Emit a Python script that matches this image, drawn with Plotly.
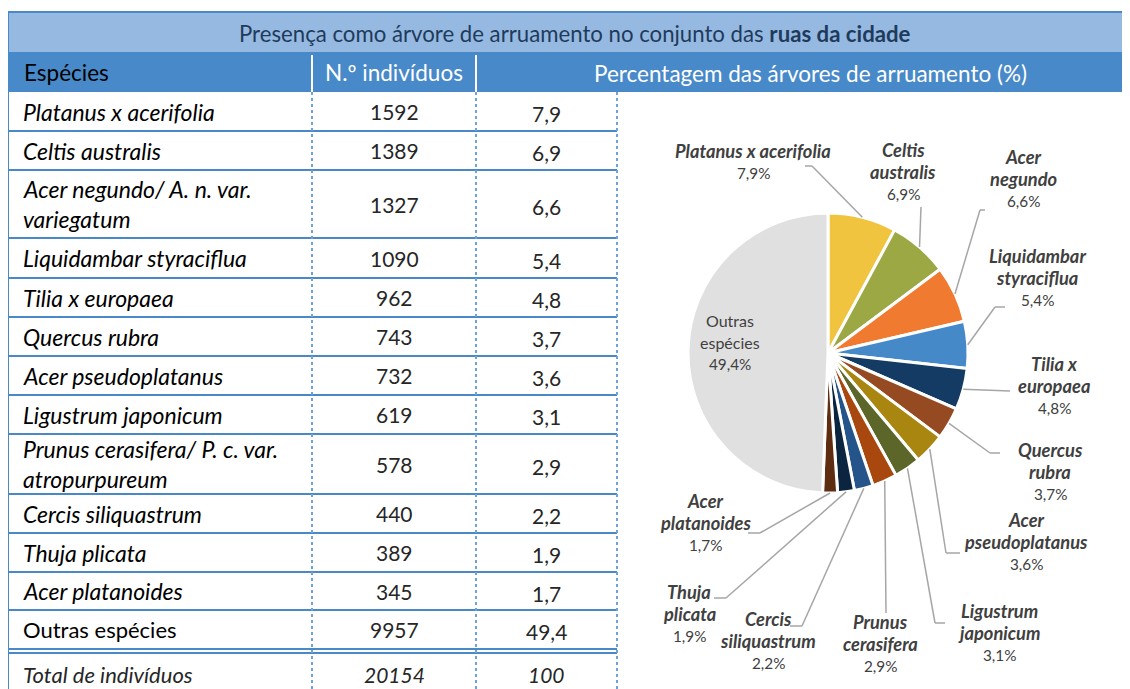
import math
import plotly.graph_objects as go

# ---------------- data ----------------
species = [
    "Platanus x acerifolia",
    "Celtis australis",
    "Acer negundo/ A. n. var.\nvariegatum",
    "Liquidambar styraciflua",
    "Tilia x europaea",
    "Quercus rubra",
    "Acer pseudoplatanus",
    "Ligustrum japonicum",
    "Prunus cerasifera/ P. c. var.\natropurpureum",
    "Cercis siliquastrum",
    "Thuja plicata",
    "Acer platanoides",
    "Outras espécies",
]
counts = [1592, 1389, 1327, 1090, 962, 743, 732, 619, 578, 440, 389, 345, 9957]
percents = ["7,9", "6,9", "6,6", "5,4", "4,8", "3,7", "3,6", "3,1", "2,9", "2,2", "1,9", "1,7", "49,4"]
total_label = "Total de indivíduos"
total_count = "20154"
total_pct = "100"

pie_labels = [
    "Platanus x acerifolia",
    "Celtis\naustralis",
    "Acer\nnegundo",
    "Liquidambar\nstyraciflua",
    "Tilia x\neuropaea",
    "Quercus\nrubra",
    "Acer\npseudoplatanus",
    "Ligustrum\njaponicum",
    "Prunus\ncerasifera",
    "Cercis\nsiliquastrum",
    "Thuja\nplicata",
    "Acer\nplatanoides",
    "Outras\nespécies",
]
pie_colors = ["#F0C43F", "#9BA843", "#F07A30", "#4689C8", "#143B63", "#954A21",
              "#A8860F", "#5B6628", "#A8470E", "#24548A", "#0B2540", "#5E2C10", "#E0E0E0"]

title_text = "Presença como árvore de arruamento no conjunto das <b>ruas da cidade</b>"
hdr_species = "Espécies"
hdr_count = "N.º indivíduos"
hdr_pct = "Percentagem das árvores de arruamento (%)"

# ---------------- layout constants (screen pixels) ----------------
OFF = 8                      # page body margin
W, H = 1130 - OFF, 689 - OFF # figure size
XR, YR = 1130, 689
BLUE = "#4A89C8"
FONT = "Lato"
TXT = "#000000"
NUM = "#262626"
row_heights = [39, 39, 68, 40, 39, 39, 39, 39, 60, 39, 39, 38, 39]
table_top = 92
col_x = [8, 312, 476, 617]
pie_cx, pie_cy, pie_r = 828, 353, 140
NAME_SZ, NUM_SZ = 23, 21
LBL_SZ, PCT_SZ = 18.3, 15.3

# label placement: (center x, first line y, leader end, leader elbow)
label_pos = [
    (753, 151, (805, 166), (812, 166)),
    (903, 150, (921, 207), None),
    (1023, 157, (985, 210), (980, 210)),
    (1037, 256, (1005, 307), (995, 307)),
    (1054, 364, (1010, 391), None),
    (1050, 450, (1000, 453), (990, 453)),
    (1026, 520, (960, 553), (946, 553)),
    (999, 611, (945, 623), (935, 623)),
    (880, 622, (886, 613), None),
    (768, 619, (790, 626), (802, 626)),
    (689, 592, (714, 598), (726, 598)),
    (705, 501, (748, 533), (760, 533)),
    (730, 320, None, None),
]

fig = go.Figure()
annotations = []
shapes = []


def text(x, y, s, size, color=TXT, xanchor="center", italic=False, bold=False, family=FONT):
    annotations.append(dict(
        x=x, y=y, xref="x", yref="y", text=s, showarrow=False,
        xanchor=xanchor, yanchor="middle",
        font=dict(family=family, size=size, color=color,
                  style="italic" if italic else "normal",
                  weight="bold" if bold else "normal"),
    ))


def line(x0, y0, x1, y1, color=BLUE, width=2, dash="solid"):
    shapes.append(dict(type="line", xref="x", yref="y", x0=x0, y0=y0, x1=x1, y1=y1,
                       line=dict(color=color, width=width, dash=dash)))


# title band and header
shapes.append(dict(type="rect", xref="x", yref="y", x0=8, x1=XR, y0=12, y1=52,
                   fillcolor="#95B9E1", line=dict(width=0), layer="below"))
shapes.append(dict(type="rect", xref="x", yref="y", x0=8, x1=XR, y0=52, y1=92,
                   fillcolor="#4889C9", line=dict(width=0), layer="below"))
line(8, 12, XR, 12)
line(8, 12, 8, YR)
line(col_x[1], 55, col_x[1], 92, color="white", width=2)
line(col_x[2], 55, col_x[2], 92, color="white", width=2)
text(575, 33, title_text, 22.2, color="#1F3B5C")
text(22, 72, hdr_species, 22.5, color="#000000", xanchor="left")
text((col_x[1] + col_x[2]) / 2, 72, hdr_count, 22.5, color="white")
text(810, 73, hdr_pct, 22.5, color="white")

# table body
y = table_top
for i, (name, cnt, pct, h) in enumerate(zip(species, counts, percents, row_heights)):
    cy = y + h / 2
    other = (i == len(species) - 1)
    parts = name.split("\n")
    if len(parts) == 1:
        text(21, cy, parts[0], NAME_SZ if not other else 22, xanchor="left", italic=not other)
    else:
        text(21, cy - 15, parts[0], NAME_SZ, xanchor="left", italic=True)
        text(21, cy + 15, parts[1], NAME_SZ, xanchor="left", italic=True)
    text((col_x[1] + col_x[2]) / 2, cy, f"{cnt}", NUM_SZ, color=NUM)
    text((col_x[2] + col_x[3]) / 2, cy + 2, pct, NUM_SZ, color=NUM)
    y += h
    if not other:
        line(8, y, col_x[3], y)
# double line before total
line(8, y, col_x[3], y)
line(8, y + 4, col_x[3], y + 4)
ty = 674
text(21, ty, total_label, 22, xanchor="left", italic=True, color=NUM)
text((col_x[1] + col_x[2]) / 2, ty, total_count, NUM_SZ, italic=True, color=NUM)
text((col_x[2] + col_x[3]) / 2, ty, total_pct, NUM_SZ, italic=True, color=NUM)

for cx in col_x[1:]:
    line(cx, 92, cx, YR, color="#6FA2DA", width=2, dash="dot")

# pie
fig.add_trace(go.Pie(
    values=counts, labels=species, sort=False, direction="clockwise", rotation=0,
    marker=dict(colors=pie_colors, line=dict(color="white", width=3)),
    textinfo="none", hoverinfo="skip", showlegend=False,
    domain=dict(x=[(pie_cx - pie_r - OFF) / W, (pie_cx + pie_r - OFF) / W],
                y=[1 - (pie_cy + pie_r - OFF) / H, 1 - (pie_cy - pie_r - OFF) / H]),
))

total = sum(counts)
cum = 0
LBL = "#404040"
for i, (lab, cnt, pct) in enumerate(zip(pie_labels, counts, percents)):
    mid = (cum + cnt / 2) / total * 2 * math.pi
    cum += cnt
    ex = pie_cx + pie_r * math.sin(mid)
    ey = pie_cy - pie_r * math.cos(mid)
    lx, ly, end, elbow = label_pos[i]
    other = (i == len(pie_labels) - 1)
    parts = lab.split("\n")
    for k, p in enumerate(parts):
        if other:
            text(lx, ly + 22 * k, p, 16, color=LBL)
        else:
            text(lx, ly + 22 * k, p, LBL_SZ, color=LBL, italic=True, bold=True)
    text(lx, ly + 22 * len(parts), pct + "%", PCT_SZ, color=LBL)
    if end is not None:
        pts = [end] + ([elbow] if elbow else []) + [(ex, ey)]
        for (a, b), (c, d) in zip(pts[:-1], pts[1:]):
            line(a, b, c, d, color="#A6A6A6", width=1.5)

fig.update_layout(
    width=W, height=H, margin=dict(l=0, r=0, t=0, b=0),
    paper_bgcolor="white", plot_bgcolor="rgba(0,0,0,0)",
    xaxis=dict(range=[OFF, XR], visible=False, fixedrange=True, domain=[0, 1]),
    yaxis=dict(range=[YR, OFF], visible=False, fixedrange=True, domain=[0, 1]),
    annotations=annotations, shapes=shapes,
)
fig.add_trace(go.Scatter(x=[OFF, XR], y=[OFF, YR], mode="markers", marker=dict(opacity=0),
                         hoverinfo="skip", showlegend=False))
fig.write_html("out.html")
